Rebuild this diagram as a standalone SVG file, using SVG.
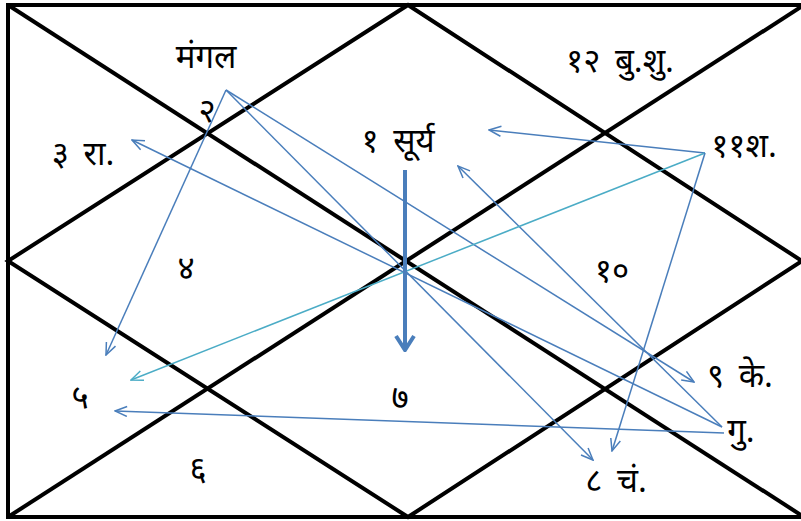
<svg xmlns="http://www.w3.org/2000/svg" width="801" height="521" viewBox="0 0 801 521">
<style>
.frame{fill:none;stroke:#000;stroke-width:4}
.t{font-family:"Noto Sans","Noto Sans CJK SC",sans-serif;font-size:33px;fill:#000;text-anchor:middle;word-spacing:6px}
.a{fill:none;stroke:#4a7ebb;stroke-width:1.5}
.c{fill:none;stroke:#4bacc6;stroke-width:1.5}
.thick{fill:none;stroke:#4a7ebb;stroke-width:4}
</style>
<defs>
<marker id="ha" viewBox="0 0 14 12" refX="13" refY="6" markerWidth="14" markerHeight="12" markerUnits="userSpaceOnUse" orient="auto">
<path d="M1,1 L13,6 L1,11" fill="none" stroke="#4a7ebb" stroke-width="1.5"/>
</marker>
<marker id="hc" viewBox="0 0 14 12" refX="13" refY="6" markerWidth="14" markerHeight="12" markerUnits="userSpaceOnUse" orient="auto">
<path d="M1,1 L13,6 L1,11" fill="none" stroke="#4bacc6" stroke-width="1.5"/>
</marker>
<marker id="ht" viewBox="0 0 18 22" refX="16" refY="11" markerWidth="18" markerHeight="22" markerUnits="userSpaceOnUse" orient="auto">
<path d="M2,2 L16,11 L2,20" fill="none" stroke="#4a7ebb" stroke-width="4"/>
</marker>
</defs>
<rect width="801" height="521" fill="#fff"/>
<g id="chart">
<rect class="frame" x="8" y="5" width="796" height="512"/>
<line class="frame" x1="8" y1="5" x2="804" y2="517"/>
<line class="frame" x1="8" y1="517" x2="804" y2="5"/>
<polygon class="frame" points="408,5 802,261 408,517 8,261"/>
</g>
<g id="houses">
<text id="h-mangal" class="t" x="206" y="68">मंगल</text>
<text id="h2" class="t" x="207" y="122">२</text>
<text id="h3" class="t" x="83" y="165">३ रा.</text>
<text id="h1" class="t" x="398" y="152">१ सूर्य</text>
<text id="h12" class="t" x="620" y="72">१२ बु.शु.</text>
<text id="h11" class="t" x="744" y="157">११श.</text>
<text id="h4" class="t" x="186" y="279">४</text>
<text id="h10" class="t" x="612" y="282">१०</text>
<text id="h5" class="t" x="80" y="409">५</text>
<text id="h7" class="t" x="400" y="409">७</text>
<text id="h9" class="t" x="740" y="387">९ के.</text>
<text id="hgu" class="t" x="741" y="442">गु.</text>
<text id="h6" class="t" x="198" y="480">६</text>
<text id="h8" class="t" x="616" y="492">८ चं.</text>
</g>
<g id="connectors">
<line class="a" x1="226" y1="90" x2="106" y2="355" marker-end="url(#ha)"/>
<line class="a" x1="226" y1="90" x2="593" y2="460" marker-end="url(#ha)"/>
<line class="a" x1="226" y1="90" x2="694" y2="382" marker-end="url(#ha)"/>
<line class="a" x1="724" y1="433" x2="115" y2="411" marker-end="url(#ha)"/>
<line class="a" x1="722" y1="427" x2="132" y2="140" marker-end="url(#ha)"/>
<line class="a" x1="722" y1="427" x2="458" y2="166" marker-end="url(#ha)"/>
<line class="a" x1="705" y1="153" x2="489" y2="130" marker-end="url(#ha)"/>
<line class="c" x1="705" y1="153" x2="131" y2="380" marker-end="url(#hc)"/>
<line class="a" x1="705" y1="153" x2="612" y2="451" marker-end="url(#ha)"/>
<line class="thick" x1="405" y1="170" x2="405" y2="350" marker-end="url(#ht)"/>
</g>
</svg>
